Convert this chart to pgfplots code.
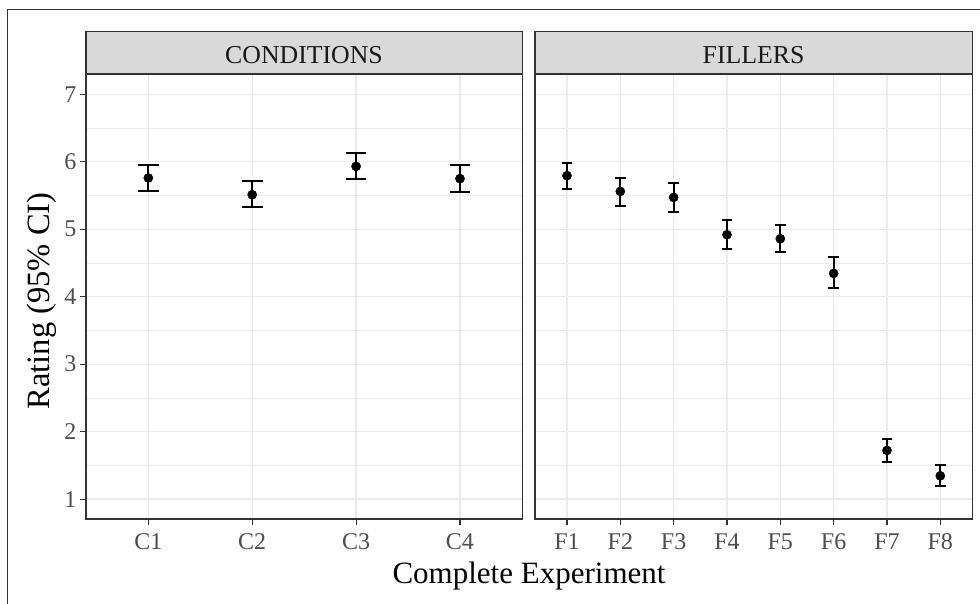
\documentclass[border=0pt]{standalone}
\usepackage{pgfplots}
\usepackage{pgfplotstable}
\pgfplotsset{compat=1.18}
\usepackage{fontspec}
\setmainfont{Liberation Serif}
\definecolor{frame}{HTML}{333333}
\definecolor{ticktxt}{HTML}{4D4D4D}
\definecolor{gridc}{HTML}{EBEBEB}
\definecolor{stripc}{HTML}{D9D9D9}

% rating means with 95% CI bounds
\pgfplotstableread{
x y lo hi
1 5.759 5.560 5.956
2 5.511 5.323 5.709
3 5.931 5.749 6.130
4 5.749 5.556 5.946
}\conditions
\pgfplotstableread{
x y lo hi
1 5.793 5.590 5.981
2 5.560 5.348 5.763
3 5.471 5.259 5.679
4 4.918 4.706 5.136
5 4.859 4.656 5.067
6 4.345 4.122 4.588
7 1.721 1.549 1.894
8 1.345 1.197 1.504
}\fillers

\pgfplotsset{
  facet/.style={
    scale only axis, anchor=south west, height=445pt,
    ymin=0.705, ymax=7.30, xmin=0.4,
    ytick={1,...,7}, minor ytick={1.5,2.5,...,6.5},
    grid=both,
    major grid style={gridc, line width=1.2pt},
    minor grid style={gridc, line width=0.7pt},
    axis line style={frame, line width=1.1pt},
    tick align=outside, major tick length=6pt, minor tick length=0pt,
    tick style={frame, line width=1.1pt},
    xtick pos=bottom, ytick pos=left,
    ticklabel style={ticktxt, font=\fontsize{24}{28}\selectfont},
    xticklabel style={anchor=base, yshift=-25pt},
    /pgf/number format/assume math mode=true,
  },
  ci/.style={
    only marks, black, mark=*, mark size=4.6pt,
    error bars/.cd, y dir=both, y explicit,
    error bar style={line width=2pt},
    error mark options={rotate=90, line width=2pt, mark size=#1},
  },
}

\begin{document}
\begin{tikzpicture}
\path[use as bounding box] (0,0) rectangle (980pt,604pt);
\draw[frame, line width=1pt] (7.3pt,0pt) -- (7.3pt,594pt) -- (980pt,594pt);

\begin{axis}[facet, at={(86pt,85pt)}, width=436.3pt, xmax=4.6,
  xtick={1,2,3,4}, xticklabels={C1,C2,C3,C4}]
\addplot[ci=10.4pt] table[x=x, y=y,
  y error plus expr=\thisrow{hi}-\thisrow{y},
  y error minus expr=\thisrow{y}-\thisrow{lo}] {\conditions};
\end{axis}

\begin{axis}[facet, at={(535pt,85pt)}, width=437.3pt, xmax=8.6,
  xtick={1,...,8}, xticklabels={F1,F2,F3,F4,F5,F6,F7,F8},
  yticklabels={}, ytick style={draw=none}]
\addplot[ci=5.3pt] table[x=x, y=y,
  y error plus expr=\thisrow{hi}-\thisrow{y},
  y error minus expr=\thisrow{y}-\thisrow{lo}] {\fillers};
\end{axis}

% facet strips
\draw[frame, fill=stripc, line width=1.1pt] (86pt,530pt) rectangle (522.3pt,572.3pt);
\draw[frame, fill=stripc, line width=1.1pt] (535pt,530pt) rectangle (972.3pt,572.3pt);
\node[anchor=base, text=black!90, font=\fontsize{25.8}{30}\selectfont] at (304pt,540.7pt) {CONDITIONS};
\node[anchor=base, text=black!90, font=\fontsize{25.8}{30}\selectfont] at (753.6pt,540.7pt) {FILLERS};

% axis titles
\node[anchor=base, font=\fontsize{31}{36}\selectfont] at (529pt,20.7pt) {Complete Experiment};
\node[anchor=base, rotate=90, font=\fontsize{32.5}{38}\selectfont] at (50pt,303pt) {Rating (95\% CI)};
\end{tikzpicture}
\end{document}
